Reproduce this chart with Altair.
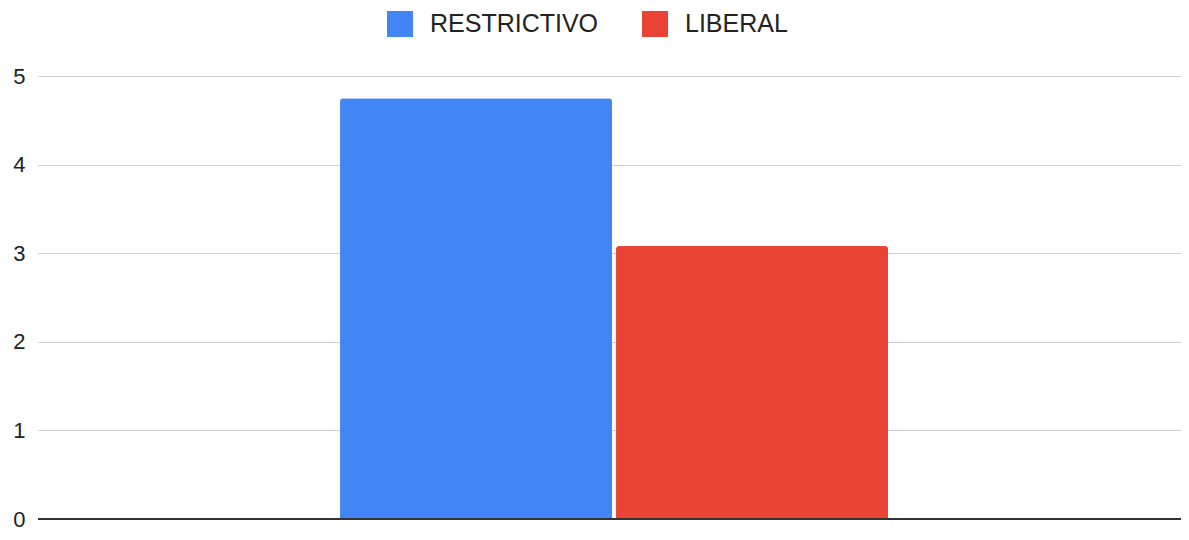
import altair as alt
import pandas as pd

series = ["RESTRICTIVO", "LIBERAL"]
values = [4.75, 3.08]
colors = ["#4285F4", "#EA4335"]
y_ticks = [0, 1, 2, 3, 4, 5]

df = pd.DataFrame({"grupo": ["", ""], "serie": series, "valor": values})

FONT = "Liberation Sans"

bars = alt.Chart(df).mark_bar(
    cornerRadiusTopLeft=3, cornerRadiusTopRight=3
).encode(
    x=alt.X("grupo:N", axis=None,
            scale=alt.Scale(paddingInner=0, paddingOuter=0.5429, align=0.5076)),
    xOffset=alt.XOffset("serie:N", sort=series,
                        scale=alt.Scale(paddingInner=0.0145, paddingOuter=0)),
    y=alt.Y("valor:Q", title=None,
            scale=alt.Scale(domain=[0, 5], nice=False),
            axis=alt.Axis(values=y_ticks, format="d", grid=True, gridColor="#cccccc",
                          gridWidth=1, domain=False, ticks=False, labelPadding=13,
                          labelFontSize=22, labelFont=FONT, labelColor="#222222")),
    color=alt.Color("serie:N", sort=series,
                    scale=alt.Scale(domain=series, range=colors),
                    legend=alt.Legend(title=None, orient="none", direction="horizontal",
                                      legendX=349, legendY=-65,
                                      symbolType="square", symbolSize=676,
                                      symbolStrokeWidth=0, symbolOpacity=1,
                                      labelFontSize=25, labelFont=FONT, labelLimit=400,
                                      labelColor="#222222", labelOffset=17,
                                      columnPadding=43)),
)

zero = alt.Chart(pd.DataFrame({"y": [0]})).mark_rule(color="#333333", strokeWidth=2).encode(
    y="y:Q"
)

chart = alt.layer(bars, zero).properties(
    width=1143, height=443,
    autosize=alt.AutoSizeParams(type="none"),
    padding={"left": 30, "top": 68, "right": 0, "bottom": 13},
).configure_view(stroke=None)

chart.save("out.html", embed_options={"renderer": "svg", "actions": False})
